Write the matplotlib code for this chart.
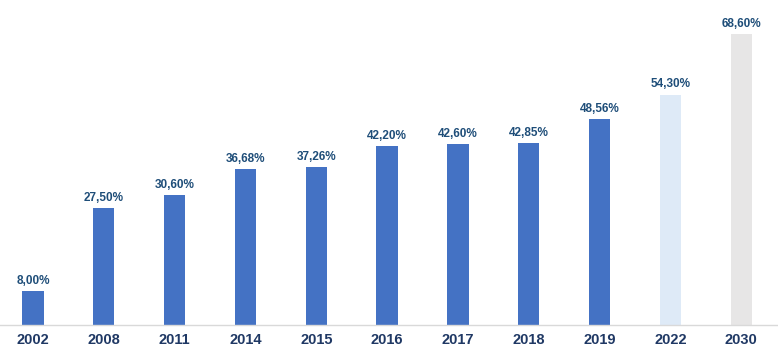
import matplotlib
matplotlib.use("Agg")
import matplotlib.pyplot as plt

# %% Data
years = ["2002", "2008", "2011", "2014", "2015", "2016", "2017", "2018", "2019", "2022", "2030"]
shares = [8.00, 27.50, 30.60, 36.68, 37.26, 42.20, 42.60, 42.85, 48.56, 54.30, 68.60]
bar_colors = ["#4472C4"] * 9 + ["#DEEAF7", "#E7E6E6"]

plt.rcParams["font.family"] = ["Liberation Sans", "DejaVu Sans"]

# %% Plot
fig = plt.figure(figsize=(7.78, 3.61), dpi=100)
ax = fig.add_axes([0, 36 / 361, 1, 325 / 361])

x = list(range(len(years)))
ax.bar(x, shares, width=0.3, color=bar_colors)

for xi, v in zip(x, shares):
    label = f"{v:.2f}%".replace(".", ",")
    ax.text(xi, v + 1.0, label, ha="center", va="bottom", fontsize=8.5, fontweight="bold", color="#1F4E79")

ax.set_xlim(-0.466, 10.52)
ax.set_ylim(0, 76.6)
ax.set_xticks(x)
ax.set_xticklabels(years, fontsize=10.5, fontweight="bold", color="#1F3864")
ax.tick_params(axis="x", length=0, pad=6)
ax.set_yticks([])
for side in ["left", "right", "top"]:
    ax.spines[side].set_visible(False)
ax.spines["bottom"].set_color("#D9D9D9")
ax.spines["bottom"].set_linewidth(1)

plt.savefig("out.png", dpi=100)
plt.close()
